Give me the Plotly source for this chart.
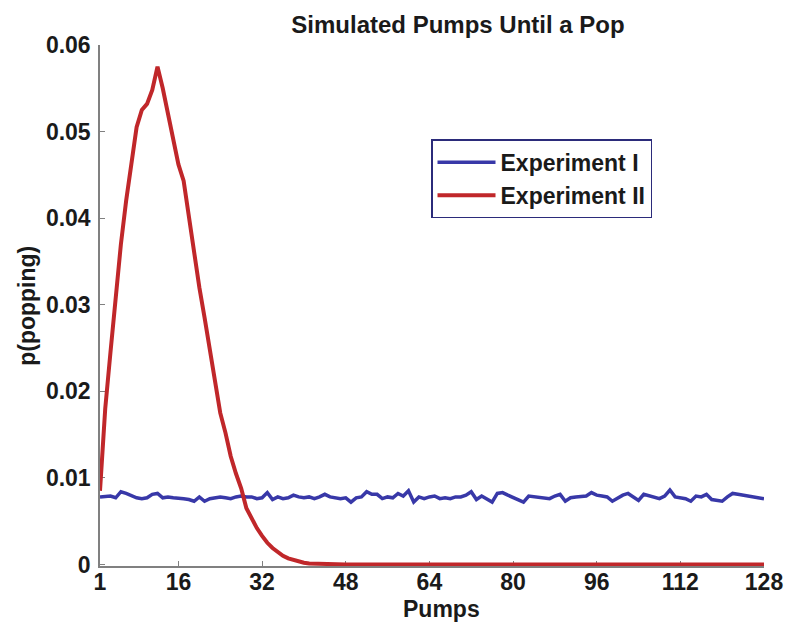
import plotly.graph_objects as go

pumps = list(range(1, 129))

# Experiment I: roughly flat ~0.0078 with noise
exp1 = [
    0.0078, 0.0079, 0.0079, 0.0077, 0.0084, 0.0082, 0.0079, 0.0077, 0.0076, 0.0077,
    0.0081, 0.0082, 0.0077, 0.0078, 0.0077, 0.0077, 0.0076, 0.0075, 0.0073, 0.0078,
    0.0073, 0.0076, 0.0077, 0.0078, 0.0077, 0.0076, 0.0078, 0.0079, 0.0078, 0.0078,
    0.0076, 0.0077, 0.0083, 0.0075, 0.0078, 0.0076, 0.0077, 0.0080, 0.0078, 0.0077,
    0.0078, 0.0076, 0.0078, 0.0081, 0.0078, 0.0077, 0.0076, 0.0077, 0.0072, 0.0077,
    0.0078, 0.0084, 0.0081, 0.0081, 0.0076, 0.0078, 0.0077, 0.0082, 0.0079, 0.0085,
    0.0072, 0.0078, 0.0076, 0.0078, 0.0079, 0.0076, 0.0077, 0.0076, 0.0078, 0.0078,
    0.0080, 0.0084, 0.0075, 0.0079, 0.0076, 0.0072, 0.0082, 0.0083, 0.0080, 0.0077,
    0.0074, 0.0072, 0.0079, 0.0078, 0.0078, 0.0077, 0.0076, 0.0079, 0.0081, 0.0073,
    0.0077, 0.0078, 0.0078, 0.0079, 0.0083, 0.0080, 0.0079, 0.0078, 0.0073, 0.0077,
    0.0080, 0.0082, 0.0078, 0.0074, 0.0081, 0.0079, 0.0078, 0.0076, 0.0079, 0.0086,
    0.0078, 0.0077, 0.0076, 0.0073, 0.0079, 0.0078, 0.0081, 0.0075, 0.0074, 0.0073,
    0.0078, 0.0082, 0.0081, 0.0080, 0.0079, 0.0078, 0.0077, 0.0076,
]

# Experiment II: sharp peak near 12 pumps, then decays to zero
exp2_head = [
    0.0085, 0.0180, 0.0245, 0.0310, 0.0370, 0.0420, 0.0465, 0.0505, 0.0525, 0.0532,
    0.0548, 0.0575, 0.0550, 0.0522, 0.0495, 0.0462, 0.0443, 0.0400, 0.0355, 0.0320,
    0.0285, 0.0250, 0.0215, 0.0175, 0.0152, 0.0125, 0.0105, 0.0088, 0.0065, 0.0053,
    0.0042, 0.0033, 0.0025, 0.0019, 0.0014, 0.0010, 0.0007, 0.0005, 0.0003, 0.0002,
    0.0001, 0.00007, 0.00004, 0.00002,
]
exp2 = exp2_head + [0.0] * (len(pumps) - len(exp2_head))

x_ticks = [1, 16, 32, 48, 64, 80, 96, 112, 128]
y_ticks = [0, 0.01, 0.02, 0.03, 0.04, 0.05, 0.06]
y_ticktext = ["0", "0.01", "0.02", "0.03", "0.04", "0.05", "0.06"]

BLUE = "#3838a8"
RED = "#c0272a"
AXIS_GREY = "#808080"
FONT = "Liberation Sans, Arial, sans-serif"

# the page body adds an 8px offset, so the figure is a bit smaller than the window
W, H = 792, 627

fig = go.Figure()
fig.add_trace(
    go.Scatter(
        x=pumps, y=exp1,
        mode="lines",
        name="Experiment I",
        line=dict(color=BLUE, width=3.5),
    )
)
fig.add_trace(
    go.Scatter(
        x=pumps, y=exp2,
        mode="lines",
        name="Experiment II",
        line=dict(color=RED, width=4),
    )
)

axis_common = dict(
    showline=True,
    linecolor=AXIS_GREY,
    linewidth=1.5,
    ticks="inside",
    ticklen=5,
    tickwidth=1.2,
    tickcolor=AXIS_GREY,
    showgrid=False,
    zeroline=False,
    mirror=False,
    tickfont=dict(family=FONT, size=23, color="#1a1a1a", weight="bold"),
    layer="below traces",
)

fig.update_xaxes(
    range=[1, 128],
    tickvals=x_ticks,
    ticktext=[str(t) for t in x_ticks],
    ticklabelstandoff=-5,
    **axis_common
)
fig.update_yaxes(
    range=[-0.00018, 0.06],
    tickvals=y_ticks,
    ticktext=y_ticktext,
    ticklabelstandoff=3,
    **axis_common
)

fig.add_annotation(
    text="<b>Pumps</b>", xref="paper", yref="paper",
    x=0.515, y=0, yshift=-43, xanchor="center", yanchor="middle",
    showarrow=False, font=dict(family=FONT, size=23, color="#1a1a1a"),
)
fig.add_annotation(
    text="<b>p(popping)</b>", xref="paper", yref="paper",
    x=-0.111, y=0.5, xanchor="center", yanchor="middle", textangle=-90,
    showarrow=False, font=dict(family=FONT, size=23, color="#1a1a1a"),
)

fig.update_layout(
    width=W,
    height=H,
    margin={'l': 92, 'b': 69, 't': 37, 'r': 36},
    paper_bgcolor="white",
    plot_bgcolor="white",
    title=dict(
        text="<b>Simulated Pumps Until a Pop</b>",
        font=dict(family=FONT, size=24, color="#1a1a1a"),
        x=450 / W, xref="container", xanchor="center",
        y=1 - 17 / H, yref="container", yanchor="middle",
    ),
    legend=dict(
        x=0.4985, y=0.819, xanchor="left", yanchor="top",
        bgcolor="white",
        bordercolor="#2b2b7a",
        borderwidth=1.5,
        font=dict(family=FONT, size=23, color="#1a1a1a", weight="bold"),
        itemwidth=58,
        tracegroupgap=0,
    ),
    showlegend=True,
)

fig.write_html("out.html")
